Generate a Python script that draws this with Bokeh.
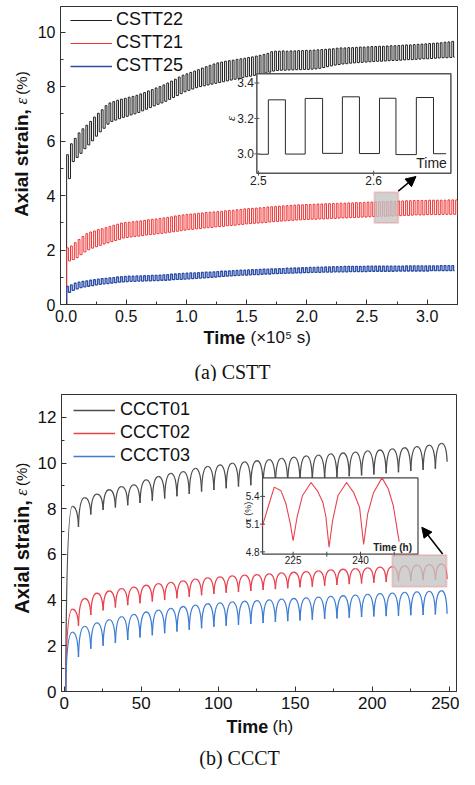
import numpy as np
from bokeh.plotting import figure
from bokeh.layouts import column, row
from bokeh.models import (Range1d, Legend, LegendItem, Arrow, NormalHead,
                          BoxAnnotation, SingleIntervalTicker, NumeralTickFormatter)
from bokeh.core.properties import value
from bokeh.embed import file_html
from bokeh.resources import INLINE

SANS = "Liberation Sans"
SERIF = "Liberation Serif"

# ---------------- data: (a) CSTT, square-wave cycles ----------------
CSTT_START = (0.0, 0.0)          # time (1e5 s), strain (%)
CSTT_T0 = 0.005                  # first cycle start (1e5 s)
CSTT_PERIOD = 0.032              # cycle period (1e5 s)
CSTT_HIGH_FRAC = 0.46            # fraction of the cycle at the high level

CSTT22_TOP = [5.50, 5.90, 6.10, 6.30, 6.45, 6.58, 6.72, 6.88, 7.02, 7.15,
              7.30, 7.40, 7.45, 7.50, 7.54, 7.57, 7.61, 7.64, 7.68, 7.73,
              7.78, 7.84, 7.89, 7.95, 8.00, 8.06, 8.13, 8.20, 8.27, 8.35,
              8.42, 8.47, 8.52, 8.57, 8.62, 8.68, 8.73, 8.78, 8.83, 8.87,
              8.90, 8.93, 8.95, 8.97, 9.00, 9.02, 9.04, 9.07, 9.09, 9.12,
              9.15, 9.18, 9.22, 9.28, 9.30, 9.30, 9.31, 9.30, 9.31, 9.31,
              9.32, 9.32, 9.33, 9.33, 9.34, 9.35, 9.36, 9.37, 9.38, 9.39,
              9.41, 9.42, 9.42, 9.43, 9.43, 9.44, 9.45, 9.45, 9.46, 9.47,
              9.47, 9.48, 9.48, 9.49, 9.50, 9.50, 9.51, 9.52, 9.53, 9.53,
              9.54, 9.55, 9.56, 9.57, 9.58, 9.59, 9.60, 9.61, 9.63, 9.64,
              9.66]
CSTT22_BOT = [4.62, 5.25, 5.40, 5.55, 5.72, 5.86, 6.01, 6.18, 6.34, 6.47,
              6.62, 6.72, 6.77, 6.82, 6.87, 6.91, 6.96, 7.00, 7.05, 7.11,
              7.17, 7.23, 7.29, 7.35, 7.40, 7.46, 7.53, 7.60, 7.67, 7.74,
              7.81, 7.86, 7.91, 7.96, 8.00, 8.03, 8.06, 8.09, 8.12, 8.15,
              8.18, 8.21, 8.24, 8.27, 8.30, 8.33, 8.36, 8.38, 8.41, 8.44,
              8.47, 8.50, 8.53, 8.57, 8.59, 8.60, 8.60, 8.61, 8.61, 8.62,
              8.62, 8.63, 8.63, 8.64, 8.65, 8.67, 8.70, 8.73, 8.76, 8.79,
              8.81, 8.83, 8.84, 8.86, 8.87, 8.88, 8.89, 8.90, 8.91, 8.92,
              8.93, 8.93, 8.94, 8.95, 8.96, 8.96, 8.97, 8.98, 8.99, 8.99,
              9.00, 9.01, 9.02, 9.02, 9.03, 9.04, 9.05, 9.06, 9.06, 9.07,
              9.08]
CSTT21_TOP = [2.08, 2.15, 2.27, 2.39, 2.50, 2.60, 2.66, 2.70, 2.75, 2.78,
              2.82, 2.87, 2.91, 2.95, 2.99, 3.01, 3.02, 3.04, 3.06, 3.07,
              3.09, 3.11, 3.13, 3.14, 3.16, 3.18, 3.20, 3.22, 3.25, 3.27,
              3.29, 3.31, 3.32, 3.33, 3.35, 3.36, 3.38, 3.39, 3.40, 3.41,
              3.42, 3.44, 3.45, 3.46, 3.48, 3.49, 3.51, 3.52, 3.53, 3.54,
              3.55, 3.56, 3.58, 3.59, 3.60, 3.61, 3.62, 3.63, 3.64, 3.65,
              3.66, 3.66, 3.67, 3.67, 3.68, 3.69, 3.69, 3.70, 3.70, 3.71,
              3.71, 3.72, 3.72, 3.73, 3.73, 3.74, 3.74, 3.75, 3.76, 3.76,
              3.77, 3.77, 3.78, 3.78, 3.79, 3.79, 3.80, 3.80, 3.81, 3.81,
              3.82, 3.82, 3.82, 3.82, 3.83, 3.83, 3.83, 3.83, 3.83, 3.84,
              3.84, 3.84]
CSTT21_BOT = [1.60, 1.65, 1.72, 1.83, 1.93, 2.01, 2.07, 2.12, 2.17, 2.22,
              2.26, 2.31, 2.35, 2.39, 2.44, 2.46, 2.48, 2.50, 2.51, 2.53,
              2.55, 2.57, 2.58, 2.60, 2.61, 2.63, 2.65, 2.67, 2.69, 2.71,
              2.73, 2.75, 2.76, 2.78, 2.79, 2.81, 2.82, 2.83, 2.85, 2.86,
              2.87, 2.89, 2.90, 2.91, 2.93, 2.94, 2.96, 2.97, 2.98, 2.99,
              3.00, 3.01, 3.03, 3.04, 3.05, 3.06, 3.07, 3.08, 3.09, 3.10,
              3.11, 3.12, 3.12, 3.13, 3.13, 3.14, 3.14, 3.15, 3.16, 3.16,
              3.17, 3.18, 3.18, 3.19, 3.19, 3.20, 3.21, 3.21, 3.22, 3.23,
              3.23, 3.24, 3.24, 3.25, 3.25, 3.26, 3.26, 3.27, 3.27, 3.28,
              3.29, 3.29, 3.29, 3.30, 3.30, 3.30, 3.30, 3.31, 3.31, 3.31,
              3.31, 3.31]
CSTT25_TOP = [0.66, 0.72, 0.78, 0.82, 0.85, 0.87, 0.89, 0.91, 0.93, 0.95,
              0.96, 0.98, 0.99, 1.01, 1.02, 1.03, 1.04, 1.04, 1.05, 1.05,
              1.06, 1.06, 1.07, 1.07, 1.08, 1.09, 1.10, 1.11, 1.12, 1.13,
              1.14, 1.15, 1.16, 1.16, 1.17, 1.18, 1.19, 1.19, 1.20, 1.21,
              1.22, 1.22, 1.23, 1.24, 1.25, 1.26, 1.26, 1.27, 1.28, 1.28,
              1.29, 1.30, 1.30, 1.31, 1.31, 1.32, 1.32, 1.33, 1.33, 1.34,
              1.34, 1.35, 1.35, 1.36, 1.36, 1.37, 1.37, 1.38, 1.38, 1.39,
              1.39, 1.39, 1.40, 1.40, 1.40, 1.40, 1.40, 1.40, 1.41, 1.41,
              1.41, 1.41, 1.41, 1.41, 1.41, 1.41, 1.41, 1.41, 1.42, 1.42,
              1.42, 1.42, 1.42, 1.42, 1.42, 1.42, 1.42, 1.43, 1.43, 1.43,
              1.43]
CSTT25_BOT = [0.45, 0.52, 0.57, 0.62, 0.65, 0.67, 0.69, 0.72, 0.74, 0.76,
              0.77, 0.79, 0.80, 0.82, 0.83, 0.84, 0.85, 0.85, 0.86, 0.86,
              0.87, 0.87, 0.88, 0.88, 0.89, 0.89, 0.90, 0.91, 0.92, 0.92,
              0.93, 0.94, 0.95, 0.96, 0.97, 0.98, 0.99, 1.00, 1.01, 1.02,
              1.03, 1.04, 1.05, 1.06, 1.07, 1.08, 1.08, 1.09, 1.10, 1.10,
              1.11, 1.12, 1.12, 1.13, 1.13, 1.14, 1.14, 1.15, 1.15, 1.16,
              1.16, 1.17, 1.17, 1.18, 1.18, 1.18, 1.19, 1.19, 1.19, 1.20,
              1.20, 1.20, 1.20, 1.21, 1.21, 1.21, 1.21, 1.21, 1.22, 1.22,
              1.22, 1.22, 1.22, 1.22, 1.22, 1.23, 1.23, 1.23, 1.23, 1.23,
              1.23, 1.23, 1.23, 1.23, 1.24, 1.24, 1.24, 1.24, 1.24, 1.24,
              1.24]

# inset of CSTT21 (time in 1e5 s, strain)
CSTT_INSET_T = [2.500, 2.5086, 2.5234, 2.5406, 2.5557, 2.5729, 2.5877,
                2.6051, 2.6194, 2.6371, 2.6520, 2.6630]
CSTT_INSET_E = [2.998, 3.305, 2.999, 3.313, 3.003, 3.322, 3.002,
                3.314, 2.996, 3.318, 3.001, 3.001]

# ---------------- data: (b) CCCT, scalloped cycles ----------------
CCCT_START = (1.0, 0.0)          # time (h), strain (%)
CCCT_PEAK_T0 = 5.3               # first peak time (h)
CCCT_PERIOD = 7.99               # cycle period (h)
CCCT_TROUGH_LAG = 4.0            # trough after each peak (h)
CCCT_END_T = 248.6               # last recorded time (h)

CCCT01_PEAK = [8.10, 8.49, 8.64, 8.83, 8.97, 9.04, 9.26, 9.41, 9.55, 9.62,
               9.77, 9.85, 9.92, 10.00, 10.05, 10.10, 10.15, 10.20, 10.26, 10.31,
               10.35, 10.40, 10.44, 10.48, 10.53, 10.57, 10.62, 10.67, 10.72, 10.78,
               10.86]
CCCT01_TROUGH = [7.20, 7.75, 7.95, 8.05, 8.15, 8.25, 8.35, 8.45, 8.55, 8.65,
                 8.75, 8.82, 8.90, 8.97, 9.03, 9.08, 9.13, 9.18, 9.23, 9.28,
                 9.33, 9.38, 9.42, 9.46, 9.50, 9.55, 9.60, 9.65, 9.70, 9.75,
                 10.06]
CCCT02_PEAK = [3.60, 4.07, 4.30, 4.40, 4.50, 4.57, 4.65, 4.72, 4.78, 4.84,
               4.92, 4.97, 5.02, 5.06, 5.09, 5.12, 5.15, 5.19, 5.22, 5.25,
               5.28, 5.32, 5.35, 5.38, 5.41, 5.44, 5.47, 5.50, 5.53, 5.55,
               5.58]
CCCT02_TROUGH = [2.88, 3.35, 3.55, 3.68, 3.78, 3.86, 3.94, 4.01, 4.08, 4.15,
                 4.21, 4.27, 4.32, 4.36, 4.40, 4.44, 4.48, 4.52, 4.56, 4.59,
                 4.63, 4.66, 4.70, 4.73, 4.76, 4.79, 4.82, 4.85, 4.87, 4.89,
                 4.92]
CCCT03_PEAK = [2.60, 2.85, 3.00, 3.15, 3.28, 3.38, 3.48, 3.56, 3.64, 3.72,
               3.78, 3.84, 3.88, 3.92, 3.95, 3.98, 4.01, 4.04, 4.07, 4.10,
               4.13, 4.16, 4.19, 4.22, 4.25, 4.28, 4.31, 4.34, 4.36, 4.38,
               4.41]
CCCT03_TROUGH = [1.51, 1.87, 2.00, 2.12, 2.25, 2.36, 2.46, 2.55, 2.63, 2.70,
                 2.77, 2.83, 2.88, 2.92, 2.96, 3.00, 3.04, 3.08, 3.11, 3.14,
                 3.17, 3.20, 3.23, 3.26, 3.28, 3.30, 3.32, 3.34, 3.35, 3.37,
                 3.40]

# inset of CCCT02 (time h, strain %)
CCCT_INSET_T = [218.1, 219.4, 220.8, 222.3, 223.4, 224.4, 225.0, 225.9, 227.1,
                229.0, 230.4, 231.6, 232.3, 233.0, 233.8, 235.0, 236.9, 238.5,
                239.8, 240.7, 241.6, 242.9, 244.8, 246.2, 247.3, 248.6]
CCCT_INSET_E = [5.07, 5.28, 5.50, 5.46, 5.32, 5.10, 4.92, 5.18, 5.41,
                5.55, 5.46, 5.34, 5.18, 4.85, 5.14, 5.41, 5.55, 5.44,
                5.28, 4.88, 5.21, 5.44, 5.60, 5.48, 5.30, 4.91]

# colours
C_BLACK, C_RED, C_BLUE = "#1e1e1e", "#ef3434", "#2c4ea8"
C_GRAY2, C_RED2, C_BLUE2 = "#4d4d4d", "#e9414e", "#3d7cd3"
AX = "#333333"


def square_wave(top, bot):
    n = min(len(top), len(bot))
    xs, ys = [CSTT_START[0]], [CSTT_START[1]]
    for k in range(n):
        t = CSTT_T0 + CSTT_PERIOD * k
        xs += [t, t + CSTT_HIGH_FRAC * CSTT_PERIOD]
        ys += [top[k], bot[k]]
    xs.append(CSTT_T0 + CSTT_PERIOD * n - 0.5 * CSTT_PERIOD * (1 - CSTT_HIGH_FRAC))
    ys.append(bot[n - 1])
    return xs, ys


def scallops(peaks, troughs):
    keys = ("x0", "y0", "x1", "y1", "cx0", "cy0", "cx1", "cy1")
    segs = {k: [] for k in keys}

    def add(*vals):
        for k, v in zip(keys, vals):
            segs[k].append(v)

    pt, py = CCCT_START
    n = len(peaks)
    for i in range(n):
        tp, yp = CCCT_PEAK_T0 + CCCT_PERIOD * i, peaks[i]
        dt, dy = tp - pt, yp - py
        add(pt, py, tp, yp, pt + 0.08 * dt, py + 0.7 * dy, pt + 0.45 * dt, yp)
        tt = CCCT_END_T if i == n - 1 else tp + CCCT_TROUGH_LAG
        yt = troughs[i]
        dt, dy = tt - tp, yp - yt
        add(tp, yp, tt, yt, tp + 0.5 * dt, yp, tt - 0.08 * dt, yt + 0.7 * dy)
        pt, py = tt, yt
    return segs


def style(p, tick_size, xi, yi, xfmt=None):
    p.xaxis.ticker = SingleIntervalTicker(interval=xi, num_minor_ticks=2)
    p.yaxis.ticker = SingleIntervalTicker(interval=yi, num_minor_ticks=2)
    if xfmt:
        p.xaxis.formatter = NumeralTickFormatter(format=xfmt)
    for ax in (p.xaxis[0], p.yaxis[0]):
        ax.axis_line_color = AX
        ax.axis_line_width = 1
        ax.major_tick_in, ax.major_tick_out = 5, 0
        ax.minor_tick_in, ax.minor_tick_out = 3, 0
        ax.major_tick_line_color = AX
        ax.minor_tick_line_color = AX
        ax.major_label_text_font = SANS
        ax.major_label_text_font_size = tick_size
        ax.major_label_text_color = "#111111"
        ax.major_label_standoff = 5
    p.xgrid.visible = False
    p.ygrid.visible = False
    p.outline_line_color = AX
    p.outline_line_width = 1


def text_fig(w, h):
    return figure(width=w, height=h, x_range=Range1d(0, w), y_range=Range1d(0, h),
                  x_axis_type=None, y_axis_type=None, output_backend="svg",
                  toolbar_location=None, min_border=0, outline_line_color=None)


def put(f, x, y_from_top, text, size, style="normal", font=SANS, align="left", angle=0.0):
    f.text(x=[x], y=[f.height - y_from_top], text=[text], text_font=value(font),
           text_font_size=size, text_font_style=style, text_align=align,
           text_baseline="middle", angle=angle, text_color="#111111")


def ylabel(f, x, joint, big):
    """Rotated 'Axial strain, ε (%)'; bold part ends at `joint`, rest starts above it."""
    put(f, x, joint, "Axial strain,", big, "bold", align="right", angle=np.pi / 2)
    put(f, x, joint - 5, "ε", "17px", "italic", font=SERIF, align="left", angle=np.pi / 2)
    put(f, x, joint - 16, "(%)", "15px", align="left", angle=np.pi / 2)


# ======================= (a) CSTT =======================
pA = figure(width=425, height=328, x_range=Range1d(-0.046, 3.252), y_range=Range1d(0, 10.94),
            output_backend="svg", toolbar_location=None,
            min_border_left=26, min_border_right=2, min_border_top=6, min_border_bottom=24)
style(pA, "16px", 0.5, 2, "0.0")

rA = []
for top, bot, col, lw in ((CSTT22_TOP, CSTT22_BOT, C_BLACK, 1.0),
                          (CSTT21_TOP, CSTT21_BOT, C_RED, 1.0),
                          (CSTT25_TOP, CSTT25_BOT, C_BLUE, 1.3)):
    xs, ys = square_wave(top, bot)
    rA.append(pA.step(xs, ys, mode="after", line_color=col, line_width=lw))

pA.add_layout(BoxAnnotation(left=2.562, right=2.76, bottom=2.99, top=4.12,
                            fill_color="#c4c4c4", fill_alpha=0.78,
                            line_color="#f07575", line_width=2))

IA_X, IA_Y = Range1d(2.4986, 2.6671), Range1d(2.891, 3.452)
subA = pA.subplot(x_source=IA_X, y_source=IA_Y,
                  x_target=Range1d(1.585, 3.197), y_target=Range1d(4.82, 8.47))
subA.quad(left=[IA_X.start], right=[IA_X.end], bottom=[IA_Y.start], top=[IA_Y.end],
          fill_color="white", line_color="#555555", line_width=1.5)
subA.step(CSTT_INSET_T, CSTT_INSET_E, mode="after", line_color="#2a2a2a", line_width=1)
IA_YT = [3.0, 3.2, 3.4]
IA_XT = [2.5, 2.6]
subA.scatter([IA_X.start] * 3, IA_YT, marker="dash", size=5, line_color="#555555")
subA.scatter(IA_XT, [IA_Y.start] * 2, marker="dash", angle=np.pi / 2, size=5, line_color="#555555")
subA.text([IA_X.start] * 3, IA_YT, text=["%.1f" % v for v in IA_YT], x_offset=-3,
          text_align="right", text_baseline="middle", text_font=value(SANS),
          text_font_size="12px", text_color="#222222")
subA.text(IA_XT, [IA_Y.start] * 2, text=["%.1f" % v for v in IA_XT], y_offset=3,
          text_align="center", text_baseline="top", text_font=value(SANS),
          text_font_size="12px", text_color="#222222")
subA.text([IA_X.end], [IA_Y.start], text=["Time"], x_offset=-4, y_offset=-2,
          text_align="right", text_baseline="bottom", text_font=value(SANS),
          text_font_size="14px", text_color="#222222")
subA.text([IA_X.start], [3.2], text=["ε"], x_offset=-26, angle=np.pi / 2,
          text_align="center", text_baseline="middle", text_font=value(SERIF),
          text_font_style="italic", text_font_size="13px", text_color="#222222")

pA.add_layout(Arrow(end=NormalHead(size=10, fill_color="black", line_color="black"),
                    x_start=2.76, y_start=4.16, x_end=2.907, y_end=4.70,
                    line_color="black", line_width=1.5))

legA = Legend(items=[LegendItem(label="CSTT22", renderers=[rA[0]]),
                     LegendItem(label="CSTT21", renderers=[rA[1]]),
                     LegendItem(label="CSTT25", renderers=[rA[2]])],
              location=(10, 228), border_line_color=None, background_fill_alpha=0,
              label_text_font=SANS, label_text_font_size="18px", label_text_color="#111111",
              glyph_width=42, glyph_height=20, label_height=20, label_standoff=4,
              spacing=2, padding=0, margin=0)
pA.add_layout(legA)

yA = text_fig(34, 328)
ylabel(yA, 21, 113, "19px")

tA = text_fig(459, 53)
put(tA, 203, 9, "Time", "18px", "bold")
put(tA, 250, 9, "(×10⁵ s)", "17px")
put(tA, 232, 43, "(a) CSTT", "20px", font=SERIF, align="center")

# ======================= (b) CCCT =======================
pB = figure(width=425, height=334, x_range=Range1d(-1.73, 254.7), y_range=Range1d(0, 13.0),
            output_backend="svg", toolbar_location=None,
            min_border_left=27, min_border_right=3, min_border_top=13, min_border_bottom=24)
style(pB, "17px", 50, 2)

rB = []
for pk, tr, col in ((CCCT01_PEAK, CCCT01_TROUGH, C_GRAY2),
                    (CCCT02_PEAK, CCCT02_TROUGH, C_RED2),
                    (CCCT03_PEAK, CCCT03_TROUGH, C_BLUE2)):
    pB.bezier(line_color=col, line_width=1.3, **scallops(pk, tr))
    rB.append(pB.line(x=[np.nan], y=[np.nan], line_color=col, line_width=1.3))

pB.add_layout(BoxAnnotation(left=213.0, right=248.3, bottom=4.59, top=5.98,
                            fill_color="#c4c4c4", fill_alpha=0.78,
                            line_color="#f07575", line_width=2))

IB_X, IB_Y = Range1d(218.2, 252.8), Range1d(4.775, 5.6)
subB = pB.subplot(x_source=IB_X, y_source=IB_Y,
                  x_target=Range1d(128.8, 229.7), y_target=Range1d(6.01, 9.35))
subB.quad(left=[IB_X.start], right=[IB_X.end], bottom=[IB_Y.start], top=[IB_Y.end],
          fill_color="white", line_color="#444444", line_width=1.2)
subB.line(CCCT_INSET_T, CCCT_INSET_E, line_color=C_RED2, line_width=1.1)
IB_YT = [4.8, 5.1, 5.4]
IB_XT = [225, 240]
subB.scatter([IB_X.start] * 3, IB_YT, marker="dash", size=5, line_color="#444444")
subB.scatter([225, 232.5, 240, 247.5], [IB_Y.start] * 4, marker="dash", angle=np.pi / 2,
             size=5, line_color="#444444")
subB.text([IB_X.start] * 3, IB_YT, text=["%.1f" % v for v in IB_YT], x_offset=-3,
          text_align="right", text_baseline="middle", text_font=value(SANS),
          text_font_size="10px", text_color="#222222")
subB.text(IB_XT, [IB_Y.start] * 2, text=[str(v) for v in IB_XT], y_offset=2,
          text_align="center", text_baseline="top", text_font=value(SANS),
          text_font_size="10px", text_color="#222222")
subB.text([IB_X.end], [IB_Y.start], text=["Time (h)"], x_offset=-6, y_offset=-1,
          text_align="right", text_baseline="bottom", text_font=value(SANS),
          text_font_style="bold", text_font_size="10px", text_color="#222222")
subB.text([IB_X.start], [5.23], text=["ε (%)"], x_offset=-15, angle=np.pi / 2,
          text_align="center", text_baseline="middle", text_font=value(SANS),
          text_font_size="9px", text_color="#222222")

pB.add_layout(Arrow(end=NormalHead(size=10, fill_color="black", line_color="black"),
                    x_start=245.7, y_start=6.02, x_end=232.2, y_end=7.19,
                    line_color="black", line_width=1.5))

legB = Legend(items=[LegendItem(label="CCCT01", renderers=[rB[0]]),
                     LegendItem(label="CCCT02", renderers=[rB[1]]),
                     LegendItem(label="CCCT03", renderers=[rB[2]])],
              location=(12, 225), border_line_color=None, background_fill_alpha=0,
              label_text_font=SANS, label_text_font_size="18px", label_text_color="#111111",
              glyph_width=42, glyph_height=20, label_height=20, label_standoff=5,
              spacing=2, padding=0, margin=0)
pB.add_layout(legB)

yB = text_fig(34, 334)
ylabel(yB, 21, 500 - 381, "20px")

tB = text_fig(459, 54)
put(tB, 226, 11, "Time", "18px", "bold")
put(tB, 272, 11, "(h)", "17px")
put(tB, 239, 42, "(b) CCCT", "20px", font=SERIF, align="center")

layout = column(row(yA, pA, spacing=0), tA, row(yB, pB, spacing=0), tB, spacing=0)
open("out.html", "w").write(file_html(layout, INLINE))
